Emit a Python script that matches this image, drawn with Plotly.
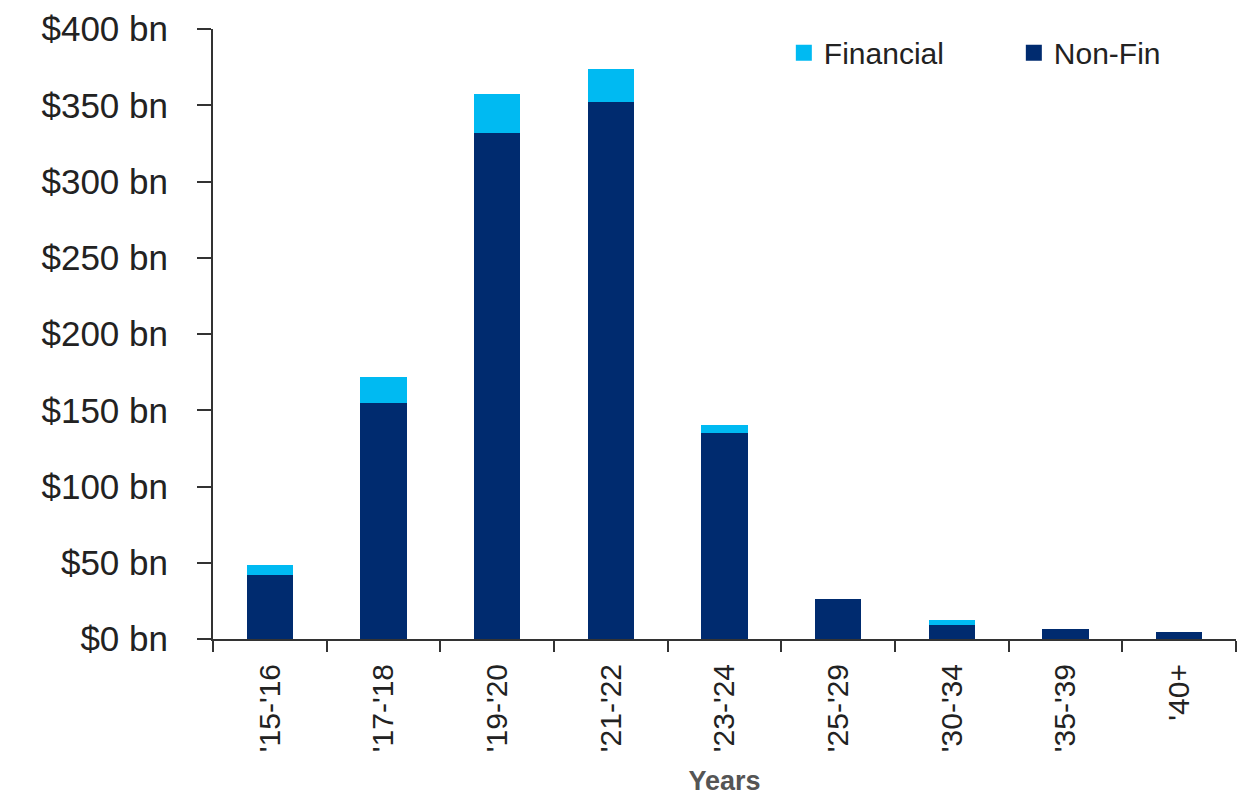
import plotly.graph_objects as go

categories = ["'15-'16", "'17-'18", "'19-'20", "'21-'22", "'23-'24", "'25-'29", "'30-'34", "'35-'39", "'40+"]
non_fin = [42, 155, 331.5, 352, 135, 26.5, 9, 6.5, 4.6]
financial = [6.5, 16.5, 26, 22, 5.3, 0, 3.5, 0, 0]
y_ticks = [0, 50, 100, 150, 200, 250, 300, 350, 400]
y_tick_labels = ["$%d bn" % v for v in y_ticks]

NAVY = "#002B6F"
CYAN = "#00BAF2"
FONT = "Liberation Sans, Arial, sans-serif"

fig = go.Figure()
fig.add_trace(go.Bar(x=categories, y=non_fin, name="Non-Fin", marker=dict(color=NAVY, line=dict(width=0)),
                     width=0.41, showlegend=False))
fig.add_trace(go.Bar(x=categories, y=financial, name="Financial", marker=dict(color=CYAN, line=dict(width=0)),
                     width=0.41, showlegend=False))
# legend entries
fig.add_trace(go.Scatter(x=[None], y=[None], mode="markers", name="Financial",
                         marker=dict(symbol="square", size=16, color=CYAN)))
fig.add_trace(go.Scatter(x=[None], y=[None], mode="markers", name="Non-Fin",
                         marker=dict(symbol="square", size=16, color=NAVY)))

fig.update_layout(
    width=1239, height=788,
    barmode="stack",
    bargap=0.59,
    paper_bgcolor="white", plot_bgcolor="white",
    margin=dict(l=205, r=11, t=21, b=157, autoexpand=False),
    font=dict(family=FONT, color="#222222"),
    legend=dict(orientation="h", x=0.558, y=0.961, xanchor="left", yanchor="middle",
                font=dict(size=30, color="#222222"), traceorder="normal",
                itemwidth=30, entrywidth=185, entrywidthmode="pixels",
                bgcolor="rgba(0,0,0,0)"),
    showlegend=True,
)
fig.update_xaxes(
    type="category", automargin=False,
    categoryorder="array", categoryarray=categories,
    showline=True, linecolor="#333333", linewidth=2,
    ticks="outside", tickson="boundaries", ticklen=11, tickwidth=2, tickcolor="#333333",
    tickangle=-90, tickfont=dict(size=30, color="#222222", family=FONT),
    ticklabelstandoff=11,
    showgrid=False, zeroline=False,
    title=dict(text="<b>Years</b>", font=dict(size=27, color="#555555", family=FONT), standoff=26),
)
fig.update_yaxes(
    range=[0, 400], automargin=False,
    tickvals=y_ticks, ticktext=y_tick_labels,
    showline=True, linecolor="#333333", linewidth=2,
    ticks="outside", ticklen=14, tickwidth=2, tickcolor="#333333",
    tickfont=dict(size=35, color="#222222", family=FONT),
    ticklabelstandoff=22,
    showgrid=False, zeroline=False,
)

fig.write_html("out.html")
